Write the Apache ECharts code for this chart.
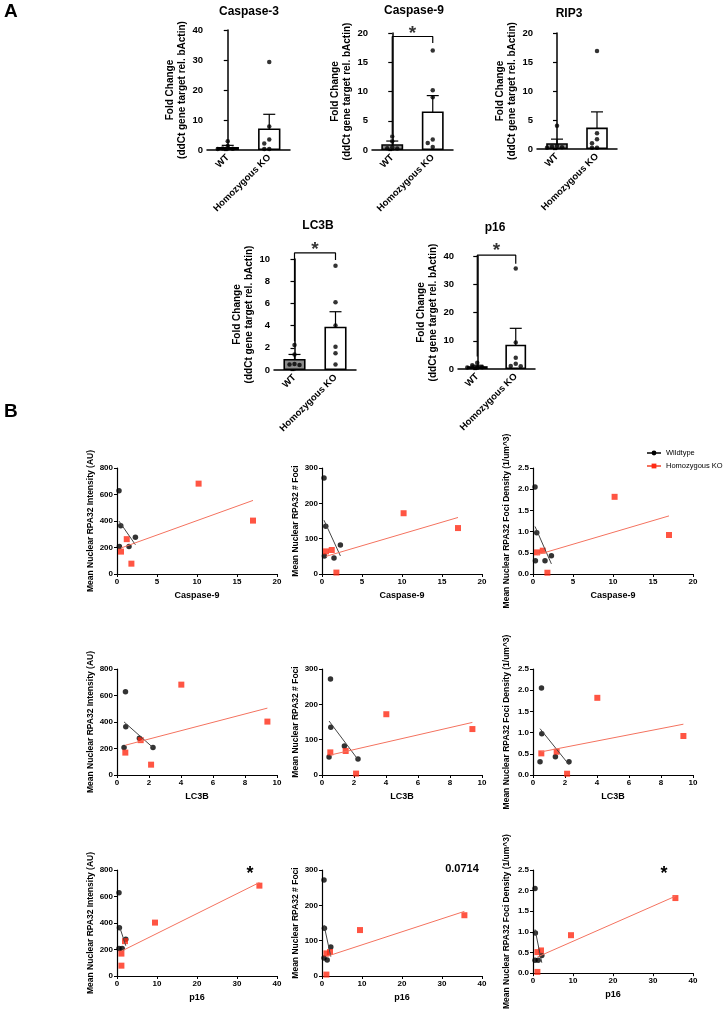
<!DOCTYPE html>
<html>
<head>
<meta charset="utf-8">
<script src="https://cdn.jsdelivr.net/npm/echarts@6/dist/echarts.min.js"></script>
<style>
  html, body { margin: 0; padding: 0; background: #fff; }
  #chart { width: 724px; height: 1011px; }
</style>
</head>
<body>
<div id="chart"></div>
<script>
const groups = ["WT", "Homozygous KO"];

// Panel A: fold change, bar = mean, whisker = SEM, dots = animals
const casp3Mean = [1.0, 7.2];
const casp3Sem = [0.55, 4.7];
const casp3Wt = [2.9, 1.3, 0.5, 0.4, 0.3];
const casp3Ko = [29.3, 7.8, 3.5, 2.2, 0.3, 0.3];

const casp9Mean = [0.98, 6.6];
const casp9Sem = [0.55, 2.7];
const casp9Wt = [2.3, 1.5, 0.47, 0.3, 0.25];
const casp9Ko = [17.0, 10.2, 9.0, 1.8, 1.2, 0.5];

const rip3Mean = [1.0, 3.7];
const rip3Sem = [0.7, 2.7];
const rip3Wt = [4.0, 0.5, 0.4, 0.3, 0.2];
const rip3Ko = [16.9, 2.7, 1.7, 1.0, 0.2, 0.2];

const lc3bMean = [1.0, 3.9];
const lc3bSem = [0.4, 1.35];
const lc3bWt = [2.25, 1.4, 0.55, 0.5, 0.44];
const lc3bKo = [9.4, 6.1, 4.0, 2.1, 1.5, 0.5];

const p16Mean = [1.0, 8.6];
const p16Sem = [0.33, 5.8];
const p16Wt = [2.2, 1.3, 0.6, 0.5, 0.5];
const p16Ko = [35.6, 9.4, 4.0, 1.9, 1.1, 1.0];

// significance brackets: [left leg bottom, bar height, right leg bottom, star]
const casp9Sig = [2.7, 19.4, 18.3, 19.9];
const lc3bSig = [2.6, 10.55, 9.9, 10.85];
const p16Sig = [4.4, 40.3, 37.3, 41.8];

// Panel B: one value per animal
const wtCasp9 = [0.25, 0.47, 0.3, 1.5, 2.3];
const wtLc3b = [0.53, 0.55, 0.44, 2.25, 1.4];
const wtP16 = [0.5, 0.6, 0.5, 1.3, 2.2];
const wtIntensity = [629, 364, 207, 207, 278];
const wtFoci = [272, 135, 51, 45, 82];
const wtDensity = [2.05, 0.97, 0.31, 0.31, 0.43];

const koCasp9 = [0.5, 1.22, 1.8, 10.2, 17.0];
const koLc3b = [0.52, 1.48, 2.13, 4.02, 9.4];
const koP16 = [1.1, 2.0, 1.1, 35.6, 9.5];
const koIntensity = [169, 263, 78, 682, 403];
const koFoci = [64, 68, 4, 172, 130];
const koDensity = [0.51, 0.55, 0.03, 1.82, 0.92];

const rowNotes = ["*", "0.0714", "*"];

const FONT = '"Liberation Sans", Arial, Helvetica, sans-serif';
const RED = "#ff2a14";

const option = {
  animation: false,
  textStyle: { fontFamily: FONT },
  grid: [],
  xAxis: [],
  yAxis: [],
  series: [],
  graphic: [],
  legend: {
    data: ["Wildtype", "Homozygous KO"],
    orient: "vertical",
    left: 641,
    top: 444,
    itemWidth: 14,
    itemHeight: 6,
    itemGap: 5,
    selectedMode: false,
    textStyle: { fontFamily: FONT, fontSize: 7.5, color: "#000" },
  },
};

function text(str, x, y, size, extra) {
  option.graphic.push({
    type: "text",
    x: x,
    y: y,
    style: Object.assign({
      text: str,
      fill: "#000",
      font: "bold " + size + "px " + FONT,
      align: "center",
      verticalAlign: "middle",
    }, extra || {}),
  });
}

function errorBar(params, api) {
  const x = api.value(0);
  const lo = api.coord([x, api.value(1)]);
  const hi = api.coord([x, api.value(2)]);
  const w = 6;
  const style = { stroke: "#000", lineWidth: 1.2 };
  return {
    type: "group",
    children: [
      { type: "line", shape: { x1: lo[0], y1: lo[1], x2: hi[0], y2: hi[1] }, style: style },
      { type: "line", shape: { x1: hi[0] - w, y1: hi[1], x2: hi[0] + w, y2: hi[1] }, style: style },
      { type: "line", shape: { x1: lo[0] - w, y1: lo[1], x2: lo[0] + w, y2: lo[1] }, style: style },
    ],
  };
}

// spread dots sideways when they would overlap (like a beeswarm)
function swarm(values, center, pxX, pxY) {
  const placed = [];
  const out = [];
  const order = values.map((v, i) => i).sort((a, b) => values[b] - values[a]);
  order.forEach((i) => {
    const y = values[i] * pxY;
    for (const k of [0, -1, 1, -2, 2, -3, 3]) {
      const x = k * 5;
      if (placed.every((p) => Math.hypot(p[0] - x, p[1] - y) >= 4.6)) {
        placed.push([x, y]);
        out.push([center + x / pxX, values[i]]);
        break;
      }
    }
  });
  return out;
}

function addBarPanel(p) {
  const gi = option.grid.length;
  const [left, top, width, height] = p.box;
  option.grid.push({ left: left, top: top, width: width, height: height });
  const xi = option.xAxis.length;
  option.xAxis.push({
    gridIndex: gi,
    type: "category",
    data: groups,
    axisLine: { lineStyle: { color: "#000", width: 1.5 } },
    axisTick: { alignWithLabel: true, length: 4, lineStyle: { color: "#000", width: 1.2 } },
    axisLabel: { rotate: 45, interval: 0, margin: 6, color: "#000", fontWeight: "bold", fontSize: 9.5, fontFamily: FONT },
  });
  option.xAxis.push({ gridIndex: gi, type: "value", min: -0.5, max: 1.5, show: false });
  const yi = option.yAxis.length;
  option.yAxis.push({
    gridIndex: gi,
    type: "value",
    min: 0,
    max: p.max,
    interval: p.step,
    name: "Fold Change\n(ddCt gene target rel. bActin)",
    nameLocation: "middle",
    nameRotate: 90,
    nameGap: 19,
    nameTextStyle: { color: "#000", fontWeight: "bold", fontSize: 10, lineHeight: 12, fontFamily: FONT },
    axisLine: { show: true, lineStyle: { color: "#000", width: 1.5 } },
    axisTick: { show: true, length: 4, lineStyle: { color: "#000", width: 1.2 } },
    axisLabel: { color: "#000", fontWeight: "bold", fontSize: 9.5, margin: 4, fontFamily: FONT },
    splitLine: { show: false },
  });

  option.series.push({
    type: "bar",
    xAxisIndex: xi,
    yAxisIndex: yi,
    barWidth: "54%",
    itemStyle: { borderColor: "#000", borderWidth: 1.6 },
    data: [
      { value: p.mean[0], itemStyle: { color: "#8e8e8e" } },
      { value: p.mean[1], itemStyle: { color: "#fff" } },
    ],
  });
  option.series.push({
    type: "custom",
    xAxisIndex: xi + 1,
    yAxisIndex: yi,
    renderItem: errorBar,
    data: p.mean.map((m, i) => [i, m - p.sem[i], m + p.sem[i]]),
  });
  const pxX = width / 2;
  const pxY = height / p.max;
  p.points.forEach((vals, gIdx) => {
    option.series.push({
      type: "scatter",
      xAxisIndex: xi + 1,
      yAxisIndex: yi,
      symbol: "circle",
      symbolSize: 4.5,
      itemStyle: { color: "#000" },
      data: swarm(vals, gIdx, pxX, pxY),
    });
  });
  if (p.sig) {
    option.series.push({
      type: "line",
      xAxisIndex: xi + 1,
      yAxisIndex: yi,
      clip: false,
      symbol: "none",
      lineStyle: { color: "#000", width: 1.2 },
      data: [[0, p.sig[0]], [0, p.sig[1]], [1, p.sig[1]], [1, p.sig[2]]],
    });
    option.series.push({
      type: "scatter",
      xAxisIndex: xi + 1,
      yAxisIndex: yi,
      clip: false,
      symbolSize: 0,
      label: { show: true, position: "inside", formatter: "*", color: "#000", fontSize: 19, fontWeight: "bold", fontFamily: FONT },
      data: [[0.5, p.sig[3]]],
    });
  }
  text(p.title, p.titleAt[0], p.titleAt[1], 12);
}

addBarPanel({ title: "Caspase-3", mean: casp3Mean, sem: casp3Sem, points: [casp3Wt, casp3Ko], max: 40, step: 10, box: [207, 30, 83, 120], titleAt: [249, 12] });
addBarPanel({ title: "Caspase-9", mean: casp9Mean, sem: casp9Sem, points: [casp9Wt, casp9Ko], max: 20, step: 5, box: [372, 33, 81, 117], titleAt: [414, 11], sig: casp9Sig });
addBarPanel({ title: "RIP3", mean: rip3Mean, sem: rip3Sem, points: [rip3Wt, rip3Ko], max: 20, step: 5, box: [537, 33, 80, 116], titleAt: [569, 14] });
addBarPanel({ title: "LC3B", mean: lc3bMean, sem: lc3bSem, points: [lc3bWt, lc3bKo], max: 10, step: 2, box: [274, 259, 82, 111], titleAt: [318, 226], sig: lc3bSig });
addBarPanel({ title: "p16", mean: p16Mean, sem: p16Sem, points: [p16Wt, p16Ko], max: 40, step: 10, box: [458, 256, 77, 113], titleAt: [495, 228], sig: p16Sig });

// Panel B
function fit(xs, ys) {
  const n = xs.length;
  const mx = xs.reduce((a, b) => a + b, 0) / n;
  const my = ys.reduce((a, b) => a + b, 0) / n;
  let sxy = 0, sxx = 0;
  xs.forEach((x, i) => { sxy += (x - mx) * (ys[i] - my); sxx += (x - mx) * (x - mx); });
  const b = sxy / sxx;
  const a = my - b * mx;
  const lo = Math.min(...xs), hi = Math.max(...xs);
  return [[lo, a + b * lo], [hi, a + b * hi]];
}

const xVars = [
  { name: "Caspase-9", wt: wtCasp9, ko: koCasp9, max: 20, step: 5 },
  { name: "LC3B", wt: wtLc3b, ko: koLc3b, max: 10, step: 2 },
  { name: "p16", wt: wtP16, ko: koP16, max: 40, step: 10 },
];
const yVars = [
  { name: "Mean Nuclear RPA32 Intensity (AU)", wt: wtIntensity, ko: koIntensity, max: 800, step: 200, digits: 0 },
  { name: "Mean Nuclear RPA32 # Foci", wt: wtFoci, ko: koFoci, max: 300, step: 100, digits: 0 },
  { name: "Mean Nuclear RPA32 Foci Density (1/um^3)", wt: wtDensity, ko: koDensity, max: 2.5, step: 0.5, digits: 1 },
];
const colLeft = [117, 322, 533];
const rowTop = [468, 669, 870];

xVars.forEach((xv, r) => {
  yVars.forEach((yv, c) => {
    const gi = option.grid.length;
    option.grid.push({ left: colLeft[c], top: rowTop[r], width: 160, height: 106 });
    const xi = option.xAxis.length;
    option.xAxis.push({
      gridIndex: gi,
      type: "value",
      min: 0,
      max: xv.max,
      interval: xv.step,
      name: xv.name,
      nameLocation: "middle",
      nameGap: 17,
      nameTextStyle: { color: "#000", fontWeight: "bold", fontSize: 9, fontFamily: FONT },
      axisLine: { lineStyle: { color: "#000", width: 1.2 } },
      axisTick: { show: true, length: 3, lineStyle: { color: "#000" } },
      axisLabel: { color: "#000", fontWeight: "bold", fontSize: 8, margin: 4, fontFamily: FONT },
      splitLine: { show: false },
    });
    const yi = option.yAxis.length;
    option.yAxis.push({
      gridIndex: gi,
      type: "value",
      min: 0,
      max: yv.max,
      interval: yv.step,
      name: yv.name,
      nameLocation: "middle",
      nameRotate: 90,
      nameGap: 22,
      nameTextStyle: { color: "#000", fontWeight: "bold", fontSize: 8.5, fontFamily: FONT },
      axisLine: { show: true, lineStyle: { color: "#000", width: 1.2 } },
      axisTick: { show: true, length: 3, lineStyle: { color: "#000" } },
      axisLabel: { color: "#000", fontWeight: "bold", fontSize: 8, margin: 4, fontFamily: FONT, formatter: (v) => v.toFixed(yv.digits) },
      splitLine: { show: false },
    });
    option.series.push({
      name: "Wildtype",
      type: "line",
      xAxisIndex: xi,
      yAxisIndex: yi,
      symbol: "circle",
      symbolSize: 6,
      showSymbol: false,
      itemStyle: { color: "#000" },
      lineStyle: { color: "#444", width: 1 },
      data: fit(xv.wt, yv.wt),
    });
    option.series.push({
      name: "Homozygous KO",
      type: "line",
      xAxisIndex: xi,
      yAxisIndex: yi,
      symbol: "rect",
      symbolSize: 6,
      showSymbol: false,
      itemStyle: { color: RED },
      lineStyle: { color: "#f4725f", width: 1 },
      data: fit(xv.ko, yv.ko),
    });
    option.series.push({
      name: "wt-points",
      type: "scatter",
      xAxisIndex: xi,
      yAxisIndex: yi,
      symbol: "circle",
      symbolSize: 5.5,
      itemStyle: { color: "#000" },
      data: xv.wt.map((x, i) => [x, yv.wt[i]]),
    });
    option.series.push({
      name: "ko-points",
      type: "scatter",
      xAxisIndex: xi,
      yAxisIndex: yi,
      symbol: "rect",
      symbolSize: 6,
      itemStyle: { color: RED },
      data: xv.ko.map((x, i) => [x, yv.ko[i]]),
    });
  });
});

text(rowNotes[0], 250, 874, 18);
text(rowNotes[1], 462, 869, 11);
text(rowNotes[2], 664, 874, 18);

text("A", 4, 12, 19, { align: "left" });
text("B", 4, 412, 19, { align: "left" });

const chart = echarts.init(document.getElementById("chart"));
chart.setOption(option);
</script>
</body>
</html>
